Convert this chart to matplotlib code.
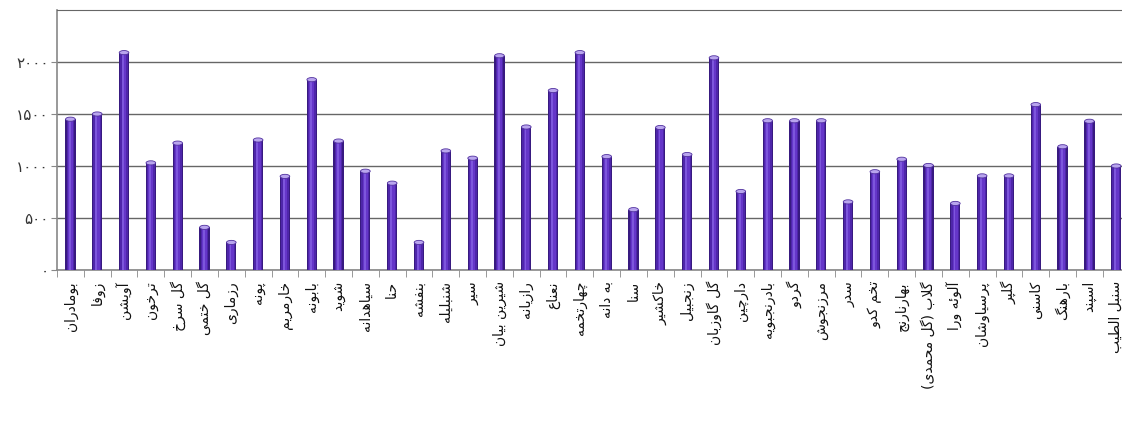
import numpy as np
import matplotlib
matplotlib.use('Agg')
import matplotlib.pyplot as plt
from matplotlib.patches import Ellipse

# herbs (left to right) and the counts
herbs = ['بومادران', 'زوفا', 'آویشن', 'ترخون', 'گل سرخ', 'گل ختمی', 'رزماری',
         'پونه', 'خارمریم', 'بابونه', 'شوید', 'سیاهدانه', 'حنا', 'بنفشه',
         'شنبلیله', 'سیر', 'شیرین بیان', 'رازیانه', 'نعناع', 'چهارتخمه',
         'به دانه', 'سنا', 'خاکشیر', 'زنجبیل', 'گل گاوزبان', 'دارچین',
         'بادرنجبویه', 'گردو', 'مرزنجوش', 'سدر', 'تخم کدو', 'بهارنارنج',
         'گلاب (گل محمدی)', 'آلوئه ورا', 'پرسیاوشان', 'گلپر', 'کاسنی',
         'بارهنگ', 'اسپند', 'سنبل الطیب']
counts = [1450, 1500, 2090, 1030, 1220, 410, 265, 1250, 900, 1830,
          1240, 950, 835, 265, 1145, 1075, 2060, 1375, 1725, 2090,
          1090, 580, 1370, 1110, 2040, 755, 1435, 1435, 1435, 655,
          945, 1065, 1005, 640, 905, 905, 1590, 1185, 1430, 1000]
y_ticks = [0, 500, 1000, 1500, 2000]
y_tick_labels = ['۰', '۵۰۰', '۱۰۰۰', '۱۵۰۰', '۲۰۰۰']

# matplotlib has no arabic shaping, so map letters to presentation forms
# first code point = isolated form; dual joining: iso, fin, ini, med
DUAL = {'ب': 0xFE8F, 'پ': 0xFB56, 'ت': 0xFE95, 'ث': 0xFE99, 'ج': 0xFE9D,
        'چ': 0xFB7A, 'ح': 0xFEA1, 'خ': 0xFEA5, 'س': 0xFEB1, 'ش': 0xFEB5,
        'ط': 0xFEC1, 'ع': 0xFEC9, 'ف': 0xFED1, 'ق': 0xFED5, 'ک': 0xFB8E,
        'گ': 0xFB92, 'ل': 0xFEDD, 'م': 0xFEE1, 'ن': 0xFEE5, 'ه': 0xFEE9,
        'ی': 0xFBFC, 'ئ': 0xFE89}
# right joining only: iso, fin
RIGHT = {'ا': 0xFE8D, 'آ': 0xFE81, 'د': 0xFEA9, 'ذ': 0xFEAB, 'ر': 0xFEAD,
         'ز': 0xFEAF, 'ژ': 0xFB8A, 'و': 0xFEED}
MIRROR = {'(': ')', ')': '('}


def shape(word):
    out = []
    i = 0
    while i < len(word):
        c = word[i]
        prev = word[i - 1] if i > 0 else ''
        nxt = word[i + 1] if i + 1 < len(word) else ''
        join_prev = prev in DUAL
        if c == 'ل' and nxt == 'ا':
            out.append(chr(0xFEFC if join_prev else 0xFEFB))
            i += 2
            continue
        if c in DUAL:
            join_next = nxt in DUAL or nxt in RIGHT
            if join_prev and join_next:
                k = 3
            elif join_prev:
                k = 1
            elif join_next:
                k = 2
            else:
                k = 0
            out.append(chr(DUAL[c] + k))
        elif c in RIGHT:
            out.append(chr(RIGHT[c] + (1 if join_prev else 0)))
        else:
            out.append(MIRROR.get(c, c))
        i += 1
    return ''.join(reversed(out))


plt.rcParams['font.family'] = ['DejaVu Sans']

fig = plt.figure(figsize=(11.22, 4.23), dpi=100)
ax = fig.add_axes([0.0508, 0.3617, 0.956, 0.6147])

x = np.arange(len(herbs))
# layered bars to fake the cylinder shading
ax.bar(x, counts, width=0.38, color='#381a80', zorder=3)
ax.bar(x, counts, width=0.29, color='#4e26aa', zorder=3)
ax.bar(x, counts, width=0.18, color='#6536c9', zorder=3)
ax.bar(x - 0.03, counts, width=0.07, color='#7d56dc', zorder=3)
for xi, v in zip(x, counts):
    ax.add_patch(Ellipse((xi, v), 0.36, 40, facecolor='#b9a5ee',
                         edgecolor='#50309e', lw=0.6, zorder=4))

ax.set_xlim(-0.5, len(herbs) - 0.5)
ax.set_ylim(0, 2500)
ax.set_yticks(y_ticks)
ax.set_yticklabels(y_tick_labels, fontsize=11, color='#333333')
ax.yaxis.grid(True, color='#666666', lw=1, zorder=1)

ax.set_xticks(x)
ax.set_xticklabels([shape(h) for h in herbs], rotation=90, fontsize=10,
                   va='top', ha='center', color='#111111')
ax.set_xticks(np.arange(-0.5, len(herbs), 1), minor=True)
ax.tick_params(axis='x', which='major', length=0, pad=8)
ax.tick_params(axis='x', which='minor', length=5, color='#888888')
ax.tick_params(axis='y', length=4, pad=2, color='#888888')

for s in ['left', 'bottom']:
    ax.spines[s].set_color('#888888')
    ax.spines[s].set_linewidth(1.2)
ax.spines['top'].set_color('#666666')
ax.spines['right'].set_visible(False)

fig.savefig('out.png', dpi=100)
